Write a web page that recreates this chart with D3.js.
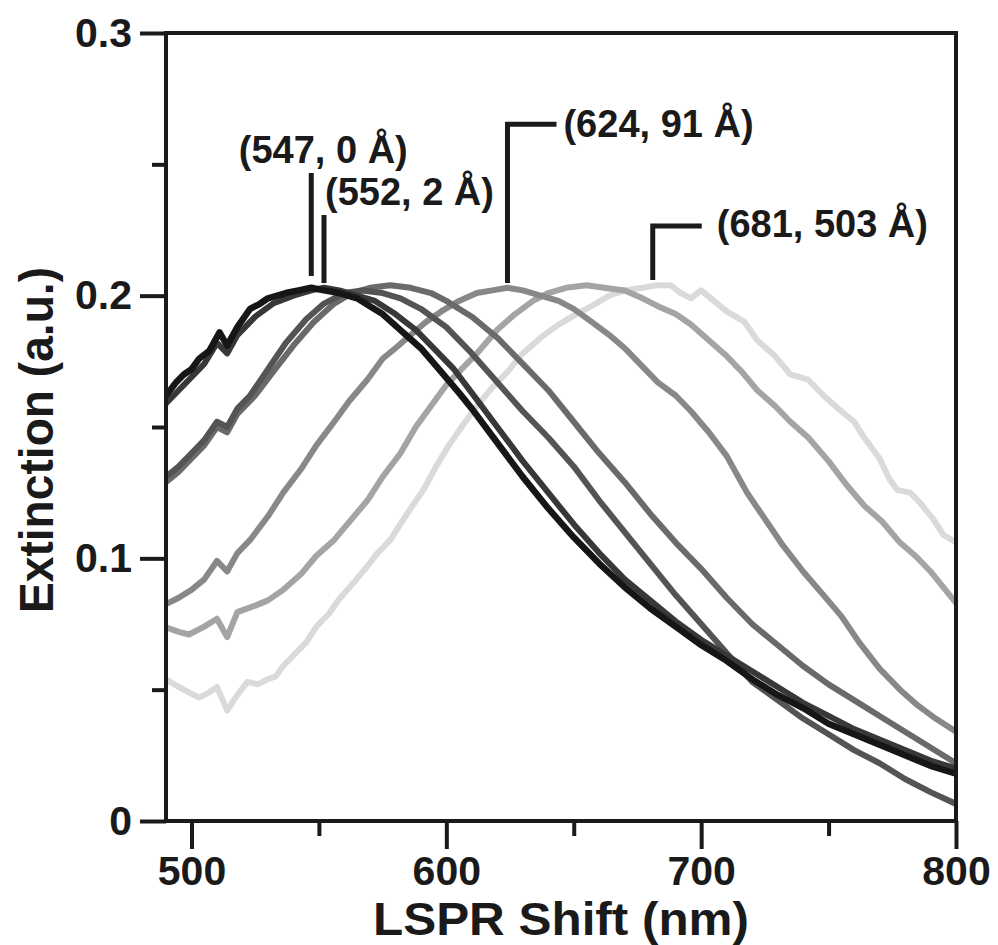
<!DOCTYPE html>
<html>
<head>
<meta charset="utf-8">
<script src="https://cdn.jsdelivr.net/npm/d3@7"></script>
<style>
  body { margin: 0; background: #fff; }
  text { font-family: "Liberation Sans", Arial, sans-serif; font-weight: bold; fill: #1a1a1a; }
</style>
</head>
<body>
<script>
// Setting dimensions for the chart
const width = 998;
const height = 945;
const margin = { top: 33, right: 42, bottom: 124, left: 166 };

// Axis ticks
const xMajorTicks = [500, 600, 700, 800];
const xMinorTicks = [550, 650, 750];
const yMajorTicks = [0, 0.1, 0.2, 0.3];
const yMinorTicks = [0.05, 0.15, 0.25];

// Spectra: [wavelength nm, extinction]
const spec547 = [[490,0.162],[494,0.167],[497,0.170],[500,0.172],[503,0.176],[507,0.179],[511,0.186],[514,0.181],[518,0.188],[523,0.195],[527,0.197],[530,0.199],[537,0.201],[542,0.202],[547,0.203],[552,0.202],[558,0.201],[565,0.199],[570,0.196],[575,0.193],[583,0.186],[590,0.180],[598,0.171],[605,0.163],[610,0.157],[620,0.144],[630,0.131],[640,0.119],[650,0.108],[660,0.098],[670,0.089],[680,0.081],[690,0.074],[700,0.067],[710,0.061],[720,0.054],[730,0.048],[740,0.043],[750,0.037],[760,0.033],[770,0.029],[780,0.025],[790,0.021],[800,0.018]];
const spec552 = [[490,0.159],[495,0.164],[500,0.169],[505,0.174],[510,0.182],[514,0.178],[518,0.185],[525,0.192],[532,0.197],[540,0.200],[547,0.202],[552,0.203],[558,0.202],[565,0.200],[572,0.198],[580,0.193],[588,0.187],[595,0.180],[603,0.172],[610,0.163],[620,0.150],[630,0.137],[640,0.125],[650,0.113],[660,0.102],[670,0.092],[680,0.084],[690,0.076],[700,0.069],[710,0.063],[720,0.057],[730,0.051],[740,0.045],[750,0.040],[760,0.035],[770,0.031],[780,0.027],[790,0.023],[800,0.020]];
const spec565 = [[490,0.131],[495,0.135],[500,0.140],[505,0.145],[510,0.152],[514,0.150],[518,0.157],[523,0.162],[530,0.172],[537,0.182],[545,0.191],[552,0.197],[560,0.201],[567,0.202],[575,0.201],[582,0.199],[590,0.195],[600,0.188],[610,0.178],[620,0.167],[630,0.156],[640,0.146],[650,0.135],[660,0.122],[670,0.110],[680,0.098],[690,0.086],[700,0.075],[710,0.064],[720,0.053],[730,0.046],[740,0.039],[750,0.033],[760,0.027],[770,0.022],[780,0.016],[790,0.011],[800,0.0065]];
const spec578 = [[490,0.129],[495,0.133],[500,0.138],[505,0.143],[510,0.150],[514,0.148],[518,0.155],[525,0.162],[532,0.171],[540,0.181],[548,0.190],[556,0.197],[563,0.201],[570,0.203],[578,0.204],[586,0.203],[594,0.201],[600,0.198],[610,0.192],[620,0.184],[630,0.174],[640,0.164],[650,0.152],[660,0.140],[670,0.129],[680,0.117],[690,0.106],[700,0.096],[710,0.085],[720,0.075],[730,0.067],[740,0.059],[750,0.052],[760,0.046],[770,0.040],[780,0.034],[790,0.028],[800,0.022]];
const spec624 = [[490,0.0826],[495,0.085],[500,0.088],[505,0.092],[510,0.099],[514,0.095],[518,0.102],[523,0.107],[530,0.116],[536,0.125],[543,0.134],[549,0.143],[556,0.152],[562,0.160],[569,0.168],[575,0.176],[580,0.180],[586,0.185],[592,0.190],[598,0.194],[605,0.198],[612,0.201],[618,0.202],[624,0.203],[630,0.202],[637,0.200],[644,0.198],[650,0.195],[657,0.190],[664,0.185],[670,0.180],[677,0.173],[683,0.167],[690,0.162],[696,0.156],[703,0.148],[710,0.139],[718,0.125],[725,0.115],[732,0.105],[740,0.095],[748,0.086],[755,0.078],[762,0.068],[770,0.058],[778,0.050],[785,0.044],[792,0.039],[800,0.034]];
const spec658 = [[490,0.0737],[495,0.072],[499,0.071],[505,0.074],[510,0.077],[514,0.070],[518,0.0795],[525,0.082],[530,0.084],[536,0.088],[543,0.094],[549,0.101],[556,0.107],[562,0.114],[569,0.122],[575,0.131],[582,0.140],[588,0.150],[594,0.158],[600,0.166],[606,0.172],[612,0.178],[620,0.187],[627,0.193],[634,0.198],[640,0.201],[647,0.203],[655,0.204],[662,0.203],[670,0.202],[677,0.199],[683,0.196],[690,0.193],[696,0.189],[703,0.183],[710,0.177],[716,0.171],[722,0.164],[729,0.158],[735,0.152],[742,0.146],[750,0.137],[757,0.128],[764,0.120],[771,0.114],[778,0.106],[784,0.101],[790,0.095],[795,0.089],[800,0.083]];
const spec681 = [[490,0.0539],[495,0.051],[499,0.049],[503,0.047],[507,0.049],[510,0.051],[514,0.042],[518,0.048],[522,0.053],[526,0.052],[530,0.054],[533,0.055],[536,0.059],[540,0.063],[545,0.068],[549,0.074],[554,0.079],[558,0.0845],[563,0.090],[569,0.097],[573,0.102],[578,0.107],[582,0.113],[586,0.119],[591,0.126],[596,0.135],[601,0.143],[606,0.150],[612,0.158],[618,0.165],[624,0.171],[630,0.178],[637,0.184],[644,0.189],[651,0.193],[657,0.196],[664,0.200],[670,0.202],[677,0.203],[683,0.204],[688,0.204],[692,0.201],[696,0.199],[700,0.202],[705,0.198],[710,0.194],[717,0.190],[722,0.183],[729,0.177],[735,0.170],[742,0.168],[748,0.162],[755,0.156],[760,0.152],[764,0.146],[770,0.138],[774,0.130],[777,0.126],[782,0.125],[786,0.121],[791,0.115],[795,0.109],[800,0.106]];

// Drawing order: lightest first so the black curve ends on top
const series = [spec681, spec658, spec624, spec578, spec565, spec552, spec547];
const seriesColors = ["#dadada", "#a4a4a4", "#888888", "#6a6a6a", "#545454", "#383838", "#161616"];

// Peak markers: peak position, bar top / bottom (extinction), label
const peakNm = [547, 552, 624, 681];
const peakTop = [0.2467, 0.2307, 0.2653, 0.2265];
const peakBottom = [0.2075, 0.2048, 0.2048, 0.2060];
const peakLabels = ["(547, 0 Å)", "(552, 2 Å)", "(624, 91 Å)", "(681, 503 Å)"];

const svg = d3.select("body").append("svg")
  .attr("width", width)
  .attr("height", height);

const x = d3.scaleLinear().domain([490, 800]).range([margin.left, width - margin.right]);
const y = d3.scaleLinear().domain([0, 0.3]).range([height - margin.bottom, margin.top]);

// Clip the curves to the frame
svg.append("clipPath").attr("id", "plot-clip")
  .append("rect")
  .attr("x", x(490)).attr("y", y(0.3))
  .attr("width", x(800) - x(490)).attr("height", y(0) - y(0.3));

// Curves
const line = d3.line().x(d => x(d[0])).y(d => y(d[1]));
svg.append("g")
  .attr("clip-path", "url(#plot-clip)")
  .selectAll("path")
  .data(series)
  .enter()
  .append("path")
  .attr("d", line)
  .attr("fill", "none")
  .attr("stroke", (d, i) => seriesColors[i])
  .attr("stroke-width", (d, i) => i === series.length - 1 ? 6.5 : 6)
  .attr("stroke-linejoin", "round");

// Axes (major with labels, minor without)
function styleAxis(g) {
  g.select(".domain").remove();
  g.selectAll(".tick line").attr("stroke", "#1a1a1a").attr("stroke-width", 4);
  g.selectAll(".tick text").attr("fill", "#1a1a1a").style("font-size", "41px")
    .attr("font-family", null);
}

svg.append("g")
  .attr("transform", `translate(0,${y(0)})`)
  .call(d3.axisBottom(x).tickValues(xMajorTicks).tickSize(28).tickPadding(7).tickFormat(d3.format("d")))
  .call(styleAxis);
svg.append("g")
  .attr("transform", `translate(0,${y(0)})`)
  .call(d3.axisBottom(x).tickValues(xMinorTicks).tickSize(15).tickFormat(""))
  .call(styleAxis);
svg.append("g")
  .attr("transform", `translate(${x(490)},0)`)
  .call(d3.axisLeft(y).tickValues(yMajorTicks).tickSize(26).tickPadding(8).tickFormat(d => d === 0 ? "0" : d3.format(".1f")(d)))
  .call(styleAxis);
svg.append("g")
  .attr("transform", `translate(${x(490)},0)`)
  .call(d3.axisLeft(y).tickValues(yMinorTicks).tickSize(14).tickFormat(""))
  .call(styleAxis);

// Frame
svg.append("rect")
  .attr("x", x(490))
  .attr("y", y(0.3))
  .attr("width", x(800) - x(490))
  .attr("height", y(0) - y(0.3))
  .attr("fill", "none")
  .attr("stroke", "#1a1a1a")
  .attr("stroke-width", 4);

// Axis titles
svg.append("text")
  .attr("x", (x(490) + x(800)) / 2)
  .attr("y", 935)
  .attr("text-anchor", "middle")
  .attr("textLength", 376)
  .attr("lengthAdjust", "spacingAndGlyphs")
  .style("font-size", "46px")
  .text("LSPR Shift (nm)");

svg.append("text")
  .attr("transform", `translate(53,440) rotate(-90)`)
  .attr("text-anchor", "middle")
  .attr("textLength", 346)
  .attr("lengthAdjust", "spacingAndGlyphs")
  .style("font-size", "48px")
  .text("Extinction (a.u.)");

// Peak markers
const markerPath = (d, i) => {
  const px = x(d);
  const top = y(peakTop[i]);
  const bottom = y(peakBottom[i]);
  // the two red-shifted peaks get a bracket tail
  return i >= 2 ? `M${px},${bottom}V${top}H${px + 49}` : `M${px},${bottom}V${top}`;
};
svg.append("g")
  .selectAll("path")
  .data(peakNm)
  .enter()
  .append("path")
  .attr("d", markerPath)
  .attr("fill", "none")
  .attr("stroke", "#1a1a1a")
  .attr("stroke-width", 5);

// Peak labels
const labelPos = [
  { dx: 12, dy: -10, anchor: "middle" },
  { dx: 1, dy: -10, anchor: "start" },
  { dx: 56, dy: 13, anchor: "start" },
  { dx: 64, dy: 11, anchor: "start" }
];
svg.append("g")
  .selectAll("text")
  .data(peakNm)
  .enter()
  .append("text")
  .attr("x", (d, i) => x(d) + labelPos[i].dx)
  .attr("y", (d, i) => y(peakTop[i]) + labelPos[i].dy)
  .attr("text-anchor", (d, i) => labelPos[i].anchor)
  .style("font-size", "38px")
  .text((d, i) => peakLabels[i]);
</script>
</body>
</html>
